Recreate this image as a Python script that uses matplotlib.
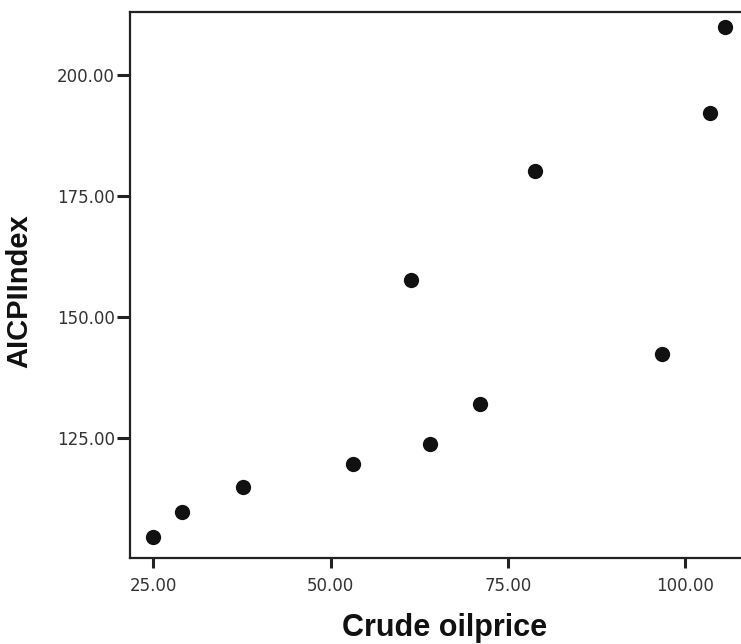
import matplotlib
matplotlib.use('Agg')
import matplotlib.pyplot as plt

# values
crude_oil_price = [25.0, 29.0, 37.7, 53.2, 61.4, 64.0, 71.1, 78.9, 96.8, 103.5, 105.6]
aicpi_index = [104.4, 109.6, 114.8, 119.5, 157.6, 123.6, 132.0, 180.1, 142.3, 192.2, 210.0]

x_ticks = [25, 50, 75, 100]
y_ticks = [125, 150, 175, 200]

fig = plt.figure(figsize=(7.41, 6.44), dpi=100)
ax = fig.add_axes([130 / 741, 1 - 558 / 644, 611 / 741, 546 / 644])

ax.plot(crude_oil_price, aicpi_index, 'o', color='#111111', markersize=11, markeredgewidth=0)

ax.set_xlim(21.7, 107.9)
ax.set_ylim(100.1, 213.0)
ax.set_xticks(x_ticks)
ax.set_yticks(y_ticks)
ax.set_xticklabels([f'{v:.2f}' for v in x_ticks])
ax.set_yticklabels([f'{v:.2f}' for v in y_ticks])

for side in ['left', 'bottom', 'top']:
    ax.spines[side].set_linewidth(1.6)
    ax.spines[side].set_color('#222222')
ax.spines['right'].set_visible(False)

ax.tick_params(axis='y', length=9.5, width=2.2, pad=1.5, color='#222222',
               labelsize=12, labelcolor='#333333')
ax.tick_params(axis='x', length=7.5, width=2.2, pad=6.5, color='#222222',
               labelsize=12, labelcolor='#333333')
for lbl in ax.get_xticklabels() + ax.get_yticklabels():
    lbl.set_family('DejaVu Sans')

ax.set_xlabel('Crude oilprice', fontsize=22, fontweight='bold',
              family='Liberation Sans', color='#111111')
ax.set_ylabel('AICPIIndex', fontsize=21, fontweight='bold',
              family='Liberation Sans', color='#111111')
ax.xaxis.set_label_coords(0.5155, -0.1)
ax.yaxis.set_label_coords(-0.159, 0.489)

fig.savefig('out.png', dpi=100)
